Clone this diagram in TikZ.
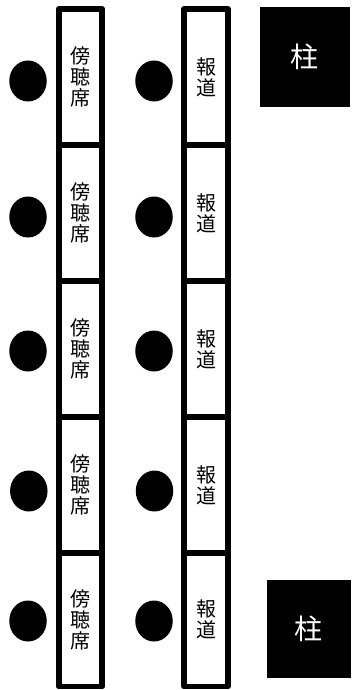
\documentclass[tikz,border=0pt]{standalone}
\usepackage{fontspec}
\newfontfamily\jp{Noto Sans CJK JP}
\usetikzlibrary{shapes.geometric}
\tikzset{
  seatbox/.style={draw=black, line width=5.6pt, line join=round, fill=white,
    inner sep=0pt, align=center, font=\jp\fontsize{20}{21}\selectfont},
  dot/.style={ellipse, fill=black, inner sep=0pt, minimum width=37.5pt, minimum height=41pt},
  pillar/.style={fill=black, text=white, inner sep=0pt, font=\jp\fontsize{28}{30}\selectfont}
}
\begin{document}
\begin{tikzpicture}[x=1pt,y=-1pt]
\useasboundingbox (0,0) rectangle (351,690);
% left column (傍聴席)
\node[seatbox, minimum width=43.5pt, minimum height=136.2pt] (a1) at (80.45,76.9) {傍\\聴\\席};
\node[seatbox, minimum width=43.5pt, minimum height=136pt] (a2) at (80.45,213) {傍\\聴\\席};
\node[seatbox, minimum width=43.5pt, minimum height=136pt] (a3) at (80.45,349) {傍\\聴\\席};
\node[seatbox, minimum width=43.5pt, minimum height=136pt] (a4) at (80.45,485) {傍\\聴\\席};
\node[seatbox, minimum width=43.5pt, minimum height=133.5pt] (a5) at (80.45,619.75) {傍\\聴\\席};
% right column (報道)
\node[seatbox, minimum width=43.6pt, minimum height=136.2pt] (b1) at (206,76.9) {報\\道};
\node[seatbox, minimum width=43.6pt, minimum height=136pt] (b2) at (206,213) {報\\道};
\node[seatbox, minimum width=43.6pt, minimum height=136pt] (b3) at (206,349) {報\\道};
\node[seatbox, minimum width=43.6pt, minimum height=136pt] (b4) at (206,485) {報\\道};
\node[seatbox, minimum width=43.6pt, minimum height=133.5pt] (b5) at (206,619.75) {報\\道};
% dots
\node[dot] (c1) at (28,81) {};
\node[dot] (c2) at (28,217) {};
\node[dot] (c3) at (28,351) {};
\node[dot] (c4) at (28.8,491) {};
\node[dot] (c5) at (28,621) {};
\node[dot] (d1) at (154,81) {};
\node[dot] (d2) at (154,217) {};
\node[dot] (d3) at (154,351) {};
\node[dot] (d4) at (154.5,491) {};
\node[dot] (d5) at (154,621) {};
% pillars
\node[pillar, minimum width=90.7pt, minimum height=99.4pt] (p1) at (304.9,57) {柱};
\node[pillar, minimum width=84.3pt, minimum height=98.3pt] (p2) at (308.9,629.2) {柱};
\end{tikzpicture}
\end{document}
